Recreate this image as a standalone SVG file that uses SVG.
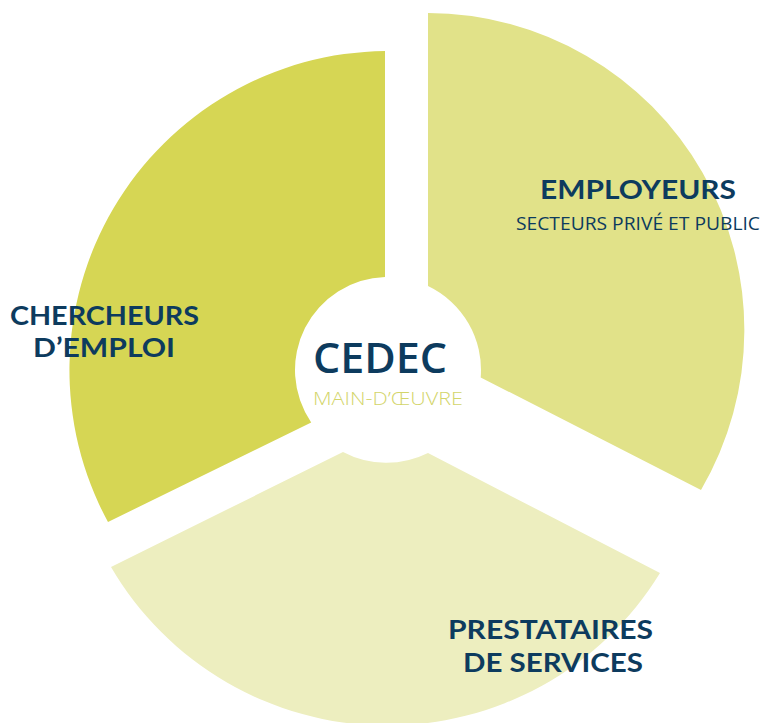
<svg xmlns="http://www.w3.org/2000/svg" width="763" height="723" viewBox="0 0 763 723">
  <style>
    .title { font-family: Lato, "Open Sans", "Liberation Sans", sans-serif; font-weight: 700; fill: #0d3b5e; text-anchor: middle; }
    .sub { font-family: "Open Sans", "Noto Sans", "Liberation Sans", sans-serif; font-weight: 400; fill: #0d3b5e; text-anchor: middle; }
    .logo { font-family: "Open Sans", "Noto Sans", "Liberation Sans", sans-serif; text-anchor: middle; }
  </style>
  <rect width="763" height="723" fill="#ffffff"/>

  <!-- Job seekers segment -->
  <g id="chercheurs">
    <path d="M385,277 L385,51 A319,319 0 0 0 108,522 L311.2,422.4 A93,93 0 0 1 385,277 Z" fill="#d6d654"/>
    <text class="title" x="104.5" y="325" font-size="26.5" textLength="189" lengthAdjust="spacingAndGlyphs">CHERCHEURS</text>
    <text class="title" x="104" y="357" font-size="26.5" textLength="142" lengthAdjust="spacingAndGlyphs">D’EMPLOI</text>
  </g>

  <!-- Employers segment -->
  <g id="employeurs">
    <path d="M428,286 L428,13 A317,317 0 0 1 701,490 L480.7,377.4 A93,93 0 0 0 428,286 Z" fill="#e1e289"/>
    <text class="title" x="638" y="199" font-size="26" textLength="196" lengthAdjust="spacingAndGlyphs">EMPLOYEURS</text>
    <text class="sub" x="638" y="230" font-size="18.5" textLength="244" lengthAdjust="spacingAndGlyphs">SECTEURS PRIVÉ ET PUBLIC</text>
  </g>

  <!-- Service providers segment -->
  <g id="prestataires">
    <path d="M428,453 L660,573 A320,320 0 0 1 111,567 L343,452 A93,93 0 0 0 428,453 Z" fill="#edeebf"/>
    <text class="title" x="550.5" y="639" font-size="26" textLength="205" lengthAdjust="spacingAndGlyphs">PRESTATAIRES</text>
    <text class="title" x="553" y="672" font-size="26" textLength="180" lengthAdjust="spacingAndGlyphs">DE SERVICES</text>
  </g>

  <!-- Central logo -->
  <g id="cedec">
    <text class="logo" x="380" y="373" font-size="41" font-weight="600" fill="#0d3b5e" textLength="134" lengthAdjust="spacingAndGlyphs">CEDEC</text>
    <text class="logo" x="388" y="405" font-size="18" font-weight="300" fill="#d3d56a" textLength="150" lengthAdjust="spacingAndGlyphs">MAIN-D’ŒUVRE</text>
  </g>
</svg>
